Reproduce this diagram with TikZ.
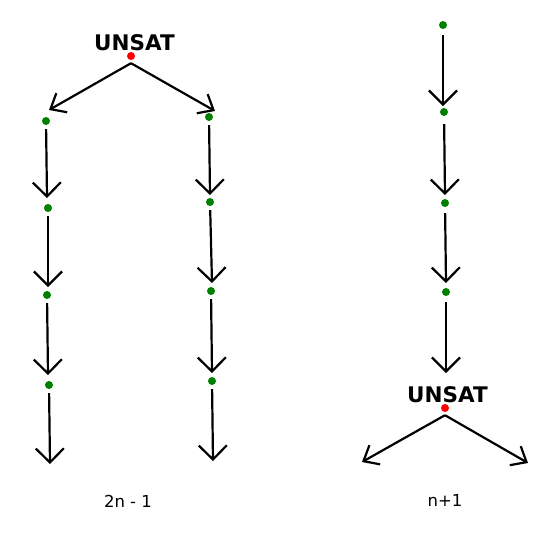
\documentclass[tikz,border=0pt]{standalone}
\usepackage{fontspec}
\setmainfont{DejaVu Sans}
\usetikzlibrary{arrows.meta}
\definecolor{dotgreen}{RGB}{0,128,0}
\definecolor{dotred}{RGB}{255,0,0}
\tikzset{
  gdot/.style={circle,fill=dotgreen,inner sep=0pt,minimum size=8pt},
  rdot/.style={circle,fill=dotred,inner sep=0pt,minimum size=8pt},
  varr/.style={line width=2.2pt,shorten <=4pt,-{Straight Barb[length=14pt,width=28pt]}},
  darr/.style={line width=2.2pt,-{Straight Barb[length=13pt,width=22pt]}},
  lbl/.style={font=\bfseries\fontsize{21.5}{24}\selectfont,inner sep=0pt},
  captext/.style={font=\fontsize{16.5}{19}\selectfont,inner sep=0pt}
}
\begin{document}
\begin{tikzpicture}[x=1pt,y=-1pt]
\useasboundingbox (0,0) rectangle (549,539);
% left tree
\node[lbl] (lunsat) at (134.5,43) {UNSAT};
\node[rdot] (lr) at (131,56) {};
\coordinate (ltl) at (49,110);
\coordinate (ltr) at (215,111);
\draw[darr] ([yshift=-3pt]lr.south) -- (ltl);
\draw[darr] ([yshift=-3pt]lr.south) -- (ltr);
% left column
\node[gdot] (a1) at (46,121) {};
\node[gdot] (a2) at (48,208) {};
\node[gdot] (a3) at (47,295) {};
\node[gdot] (a4) at (49,385) {};
\coordinate (at1) at (47,198);
\coordinate (at2) at (48,287);
\coordinate (at3) at (48,375);
\coordinate (at4) at (50,464);
\draw[varr] (a1) -- (at1);
\draw[varr] (a2) -- (at2);
\draw[varr] (a3) -- (at3);
\draw[varr] (a4) -- (at4);
% right column
\node[gdot] (b1) at (209,117) {};
\node[gdot] (b2) at (210,202) {};
\node[gdot] (b3) at (211,291) {};
\node[gdot] (b4) at (212,381) {};
\coordinate (bt1) at (210,195);
\coordinate (bt2) at (212,283);
\coordinate (bt3) at (212,373);
\coordinate (bt4) at (213,461);
\draw[varr] (b1) -- (bt1);
\draw[varr] (b2) -- (bt2);
\draw[varr] (b3) -- (bt3);
\draw[varr] (b4) -- (bt4);
\node[captext] (lcap) at (128,501) {2n - 1};
% right tree
\node[gdot] (c1) at (443,25) {};
\node[gdot] (c2) at (444,112) {};
\node[gdot] (c3) at (445,203) {};
\node[gdot] (c4) at (446,292) {};
\coordinate (ct1) at (443,106);
\coordinate (ct2) at (445,195);
\coordinate (ct3) at (446,283);
\coordinate (ct4) at (446,373);
\draw[varr,shorten <=6pt] (c1) -- (ct1);
\draw[varr,shorten <=8pt] (c2) -- (ct2);
\draw[varr,shorten <=6pt] (c3) -- (ct3);
\draw[varr,shorten <=6pt] (c4) -- (ct4);
\node[lbl] (runsat) at (447.5,395) {UNSAT};
\node[rdot] (rr) at (445,408) {};
\coordinate (rtl) at (362,462);
\coordinate (rtr) at (528,463);
\draw[darr] ([yshift=-3pt]rr.south) -- (rtl);
\draw[darr] ([yshift=-3pt]rr.south) -- (rtr);
\node[captext] (rcap) at (445,500) {n+1};
\end{tikzpicture}
\end{document}
